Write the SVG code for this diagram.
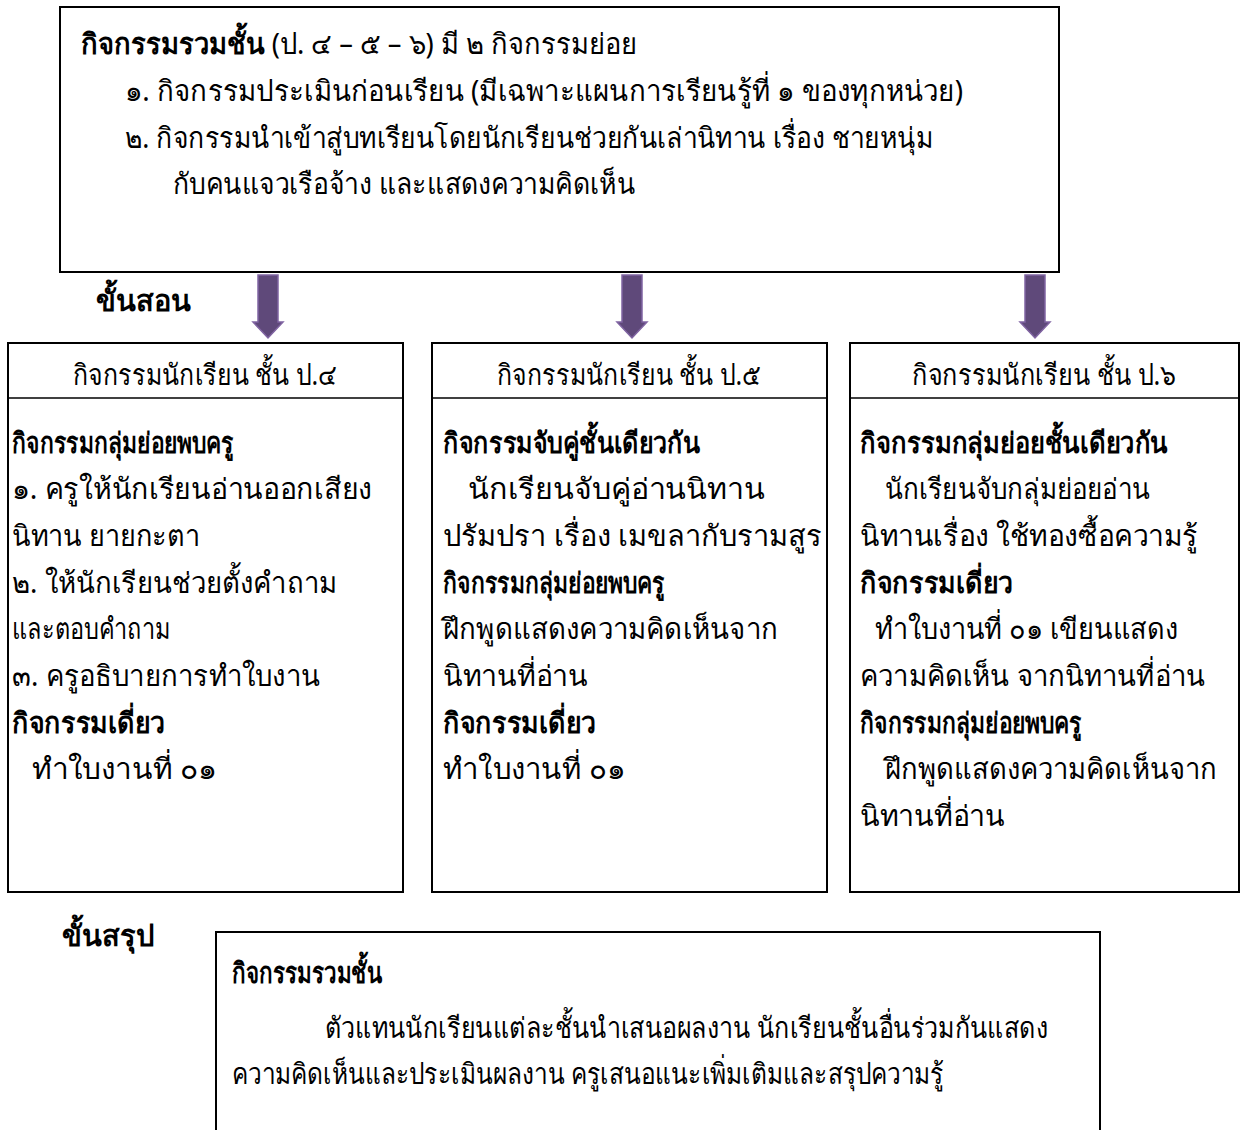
<svg xmlns="http://www.w3.org/2000/svg" width="1244" height="1130" viewBox="0 0 1244 1130">
<style>
.box{fill:#fff;stroke:#000;stroke-width:2}
.sep{stroke:#000;stroke-width:1.5}
text{font-family:"Noto Sans","DejaVu Sans",sans-serif;font-size:29px;fill:#000}
.b{font-weight:bold}
.arr{fill:#5f497a;stroke:#8064a2;stroke-width:1.5}
</style>
<rect width="1244" height="1130" fill="#fff"/>
<g id="top">
<rect class="box" x="60" y="7" width="999" height="265"/>
<text x="81" y="54" textLength="556" lengthAdjust="spacingAndGlyphs"><tspan class="b">กิจกรรมรวมชั้น</tspan> (ป. ๔ – ๕ – ๖) มี ๒ กิจกรรมย่อย</text>
<text x="125" y="101" textLength="838" lengthAdjust="spacingAndGlyphs">๑.  กิจกรรมประเมินก่อนเรียน (มีเฉพาะแผนการเรียนรู้ที่ ๑ ของทุกหน่วย)</text>
<text x="125" y="148" textLength="808" lengthAdjust="spacingAndGlyphs">๒.  กิจกรรมนำเข้าสู่บทเรียนโดยนักเรียนช่วยกันเล่านิทาน เรื่อง ชายหนุ่ม</text>
<text x="173" y="194" textLength="462" lengthAdjust="spacingAndGlyphs">กับคนแจวเรือจ้าง  และแสดงความคิดเห็น</text>
</g>
<g id="label-teach"><text class="b" x="96" y="311">ขั้นสอน</text></g>
<g id="connectors">
<path class="arr" d="M258 275 H278 V322 H283 L268 338 L253 322 H258 Z"/>
<path class="arr" d="M622 275 H642 V322 H647 L632 338 L617 322 H622 Z"/>
<path class="arr" d="M1025 275 H1045 V322 H1050 L1035 338 L1020 322 H1025 Z"/>
</g>
<g id="p4">
<rect class="box" x="8" y="343" width="395" height="549"/>
<line class="sep" x1="8" y1="398" x2="403" y2="398"/>
<text x="205" y="385" text-anchor="middle" textLength="264" lengthAdjust="spacingAndGlyphs">กิจกรรมนักเรียน ชั้น ป.๔</text>
<text class="b" x="12" y="453" textLength="222" lengthAdjust="spacingAndGlyphs">กิจกรรมกลุ่มย่อยพบครู</text>
<text x="12" y="499" textLength="360" lengthAdjust="spacingAndGlyphs">๑. ครูให้นักเรียนอ่านออกเสียง</text>
<text x="12" y="546" textLength="188" lengthAdjust="spacingAndGlyphs">นิทาน  ยายกะตา</text>
<text x="12" y="593" textLength="325" lengthAdjust="spacingAndGlyphs">๒. ให้นักเรียนช่วยตั้งคำถาม</text>
<text x="12" y="639" textLength="158" lengthAdjust="spacingAndGlyphs">และตอบคำถาม</text>
<text x="12" y="686" textLength="308" lengthAdjust="spacingAndGlyphs">๓. ครูอธิบายการทำใบงาน</text>
<text class="b" x="12" y="733" textLength="153" lengthAdjust="spacingAndGlyphs">กิจกรรมเดี่ยว</text>
<text x="32" y="779" textLength="185" lengthAdjust="spacingAndGlyphs">ทำใบงานที่ ๐๑</text>
</g>
<g id="p5">
<rect class="box" x="432" y="343" width="395" height="549"/>
<line class="sep" x1="432" y1="398" x2="827" y2="398"/>
<text x="629" y="385" text-anchor="middle" textLength="264" lengthAdjust="spacingAndGlyphs">กิจกรรมนักเรียน ชั้น ป.๕</text>
<text class="b" x="443" y="453" textLength="257" lengthAdjust="spacingAndGlyphs">กิจกรรมจับคู่ชั้นเดียวกัน</text>
<text x="468" y="499" textLength="297" lengthAdjust="spacingAndGlyphs">นักเรียนจับคู่อ่านนิทาน</text>
<text x="443" y="546" textLength="379" lengthAdjust="spacingAndGlyphs">ปรัมปรา เรื่อง เมขลากับรามสูร</text>
<text class="b" x="443" y="593" textLength="222" lengthAdjust="spacingAndGlyphs">กิจกรรมกลุ่มย่อยพบครู</text>
<text x="443" y="639" textLength="335" lengthAdjust="spacingAndGlyphs">ฝึกพูดแสดงความคิดเห็นจาก</text>
<text x="443" y="686" textLength="145" lengthAdjust="spacingAndGlyphs">นิทานที่อ่าน</text>
<text class="b" x="443" y="733" textLength="153" lengthAdjust="spacingAndGlyphs">กิจกรรมเดี่ยว</text>
<text x="443" y="779" textLength="182" lengthAdjust="spacingAndGlyphs">ทำใบงานที่ ๐๑</text>
</g>
<g id="p6">
<rect class="box" x="850" y="343" width="389" height="549"/>
<line class="sep" x1="850" y1="398" x2="1239" y2="398"/>
<text x="1044" y="385" text-anchor="middle" textLength="264" lengthAdjust="spacingAndGlyphs">กิจกรรมนักเรียน ชั้น ป.๖</text>
<text class="b" x="860" y="453" textLength="308" lengthAdjust="spacingAndGlyphs">กิจกรรมกลุ่มย่อยชั้นเดียวกัน</text>
<text x="885" y="499" textLength="265" lengthAdjust="spacingAndGlyphs">นักเรียนจับกลุ่มย่อยอ่าน</text>
<text x="860" y="546" textLength="338" lengthAdjust="spacingAndGlyphs">นิทานเรื่อง ใช้ทองซื้อความรู้</text>
<text class="b" x="860" y="593" textLength="153" lengthAdjust="spacingAndGlyphs">กิจกรรมเดี่ยว</text>
<text x="875" y="639" textLength="303" lengthAdjust="spacingAndGlyphs">ทำใบงานที่ ๐๑ เขียนแสดง</text>
<text x="860" y="686" textLength="345" lengthAdjust="spacingAndGlyphs">ความคิดเห็น จากนิทานที่อ่าน</text>
<text class="b" x="860" y="733" textLength="222" lengthAdjust="spacingAndGlyphs">กิจกรรมกลุ่มย่อยพบครู</text>
<text x="885" y="779" textLength="332" lengthAdjust="spacingAndGlyphs">ฝึกพูดแสดงความคิดเห็นจาก</text>
<text x="860" y="826" textLength="145" lengthAdjust="spacingAndGlyphs">นิทานที่อ่าน</text>
</g>
<g id="label-sum"><text class="b" x="62" y="946">ขั้นสรุป</text></g>
<g id="summary">
<rect class="box" x="216" y="932" width="884" height="210"/>
<text class="b" x="232" y="983" textLength="150" lengthAdjust="spacingAndGlyphs">กิจกรรมรวมชั้น</text>
<text x="325" y="1038" textLength="723" lengthAdjust="spacingAndGlyphs">ตัวแทนนักเรียนแต่ละชั้นนำเสนอผลงาน นักเรียนชั้นอื่นร่วมกันแสดง</text>
<text x="232" y="1084" textLength="712" lengthAdjust="spacingAndGlyphs">ความคิดเห็นและประเมินผลงาน ครูเสนอแนะเพิ่มเติมและสรุปความรู้</text>
</g>
</svg>
